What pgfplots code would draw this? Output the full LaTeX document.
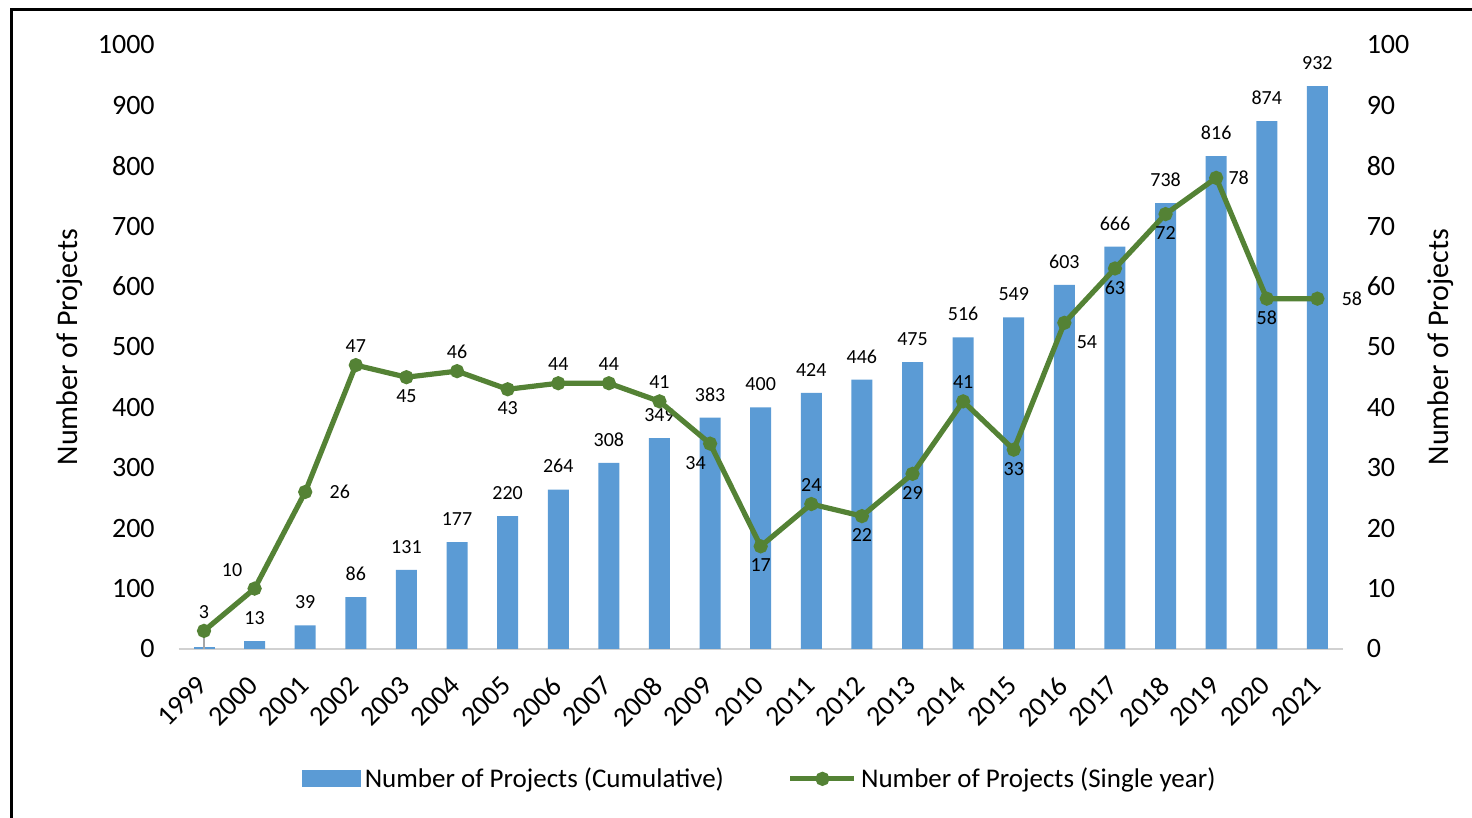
\documentclass[border=0pt]{standalone}
\usepackage{fontspec}
\setmainfont{Carlito}
\usepackage{pgfplots}
\pgfplotsset{compat=1.18}
\usepackage{pgfplotstable}

\definecolor{barblue}{HTML}{5B9BD5}
\definecolor{linegreen}{HTML}{548235}

\pgfplotstableread{
x cum
1 13
2 39
3 86
4 131
5 177
6 220
7 264
8 308
9 349
10 383
11 400
12 424
13 446
14 475
15 516
16 549
17 603
18 666
19 738
20 816
21 874
22 932
}\cumdata

\pgfplotstableread{
x single
0 3
1 10
2 26
3 47
4 45
5 46
6 43
7 44
8 44
9 41
10 34
11 17
12 24
13 22
14 29
15 41
16 33
17 54
18 63
19 72
20 78
21 58
22 58
}\singledata

\pgfplotsset{
  common/.style={
    scale only axis,
    width=582pt, height=302pt,
    xmin=-0.5, xmax=22.5,
    tick style={draw=none},
    major tick length=0pt,
    /pgf/number format/assume math mode=true,
    /pgf/number format/1000 sep={},
    ticklabel style={font=\fontsize{14}{16}\selectfont},
  },
  lbl/.style={draw=none, mark=none, forget plot, nodes near coords, point meta=y,
    every node near coord/.append style={font=\fontsize{10}{12}\selectfont, inner sep=6pt, black, anchor=#1}},
}

\begin{document}
\begin{tikzpicture}
\useasboundingbox (-89.35pt,-84.5pt) rectangle (646.65pt,324.5pt);
\draw[line width=1.5pt] (-83.35pt,-95pt) -- (-83.35pt,319.5pt) -- (660pt,319.5pt);

\begin{axis}[
  common,
  ymin=0, ymax=1000,
  ytick={0,100,...,1000},
  axis x line*=bottom,
  axis y line*=left,
  y axis line style={draw=none},
  x axis line style={draw=black!18, line width=1pt},
  xtick={0,...,22},
  xticklabels={1999,2000,2001,2002,2003,2004,2005,2006,2007,2008,2009,2010,2011,2012,2013,2014,2015,2016,2017,2018,2019,2020,2021},
  xticklabel style={xshift=-4pt, yshift=-8pt, rotate=45, anchor=north east},
  yticklabel style={xshift=-8.5pt},
  ylabel={Number of Projects},
  ylabel style={at={(axis description cs:-0.0934,0.5)}, anchor=center, font=\fontsize{15}{17}\selectfont},
  ybar, bar width=10.5pt, bar shift=0pt,
]
\addplot[draw=none, fill=barblue] coordinates {(0,3)};
\addplot[draw=black!35, line width=0.6pt, sharp plot] coordinates {(0,0) (0,30)};
\addplot[draw=none, fill=barblue,
  nodes near coords,
  every node near coord/.append style={font=\fontsize{10}{12}\selectfont, inner sep=3pt, yshift=5pt, black},
] table[x=x, y=cum] {\cumdata};
\end{axis}

\begin{axis}[
  common,
  ymin=0, ymax=100,
  ytick={0,10,...,100},
  axis x line=none,
  axis y line*=right,
  y axis line style={draw=none},
  yticklabel style={xshift=8.5pt},
  ylabel={Number of Projects},
  ylabel style={at={(axis description cs:1.0842,0.5)}, anchor=center, font=\fontsize{15}{17}\selectfont},
  legend style={at={(0.5,-0.215)}, anchor=center, draw=none, fill=none,
    font=\fontsize{13.5}{15}\selectfont, legend columns=2,
    /tikz/every even column/.append style={column sep=30pt},
    inner sep=0pt},
  legend cell align=left,
]
\addlegendimage{legend image code/.code={\fill[barblue] (0pt,-4pt) rectangle (29pt,4pt);}}
\addlegendentry{Number of Projects (Cumulative)}
\addplot[linegreen, line width=2.6pt, mark=*, mark size=2.2pt,
  mark options={fill=linegreen, draw=linegreen},
  legend image code/.code={\draw[linegreen, line width=2.6pt] (0pt,0pt) -- (32pt,0pt); \fill[linegreen] (16pt,0pt) circle (2.2pt);},
] table[x=x, y=single] {\singledata};
\addlegendentry{Number of Projects (Single year)}
\addplot[lbl=south] coordinates {(0,3) (3,47) (5,46) (7,44) (8,44) (9,41) (12,24) (15,41)};
\addplot[lbl=north] coordinates {(4,45) (6,43) (11,17) (13,22) (14,29) (16,33) (18,63) (19,72) (21,58)};
\addplot[lbl=west] coordinates {(20,78)};
\addplot[lbl=west, every node near coord/.append style={xshift=6pt}] coordinates {(2,26) (22,58)};
\addplot[lbl=south east] coordinates {(1,10)};
\addplot[lbl=north east, every node near coord/.append style={xshift=4pt}] coordinates {(10,34)};
\addplot[lbl=north west] coordinates {(17,54)};
\end{axis}
\end{tikzpicture}
\end{document}
